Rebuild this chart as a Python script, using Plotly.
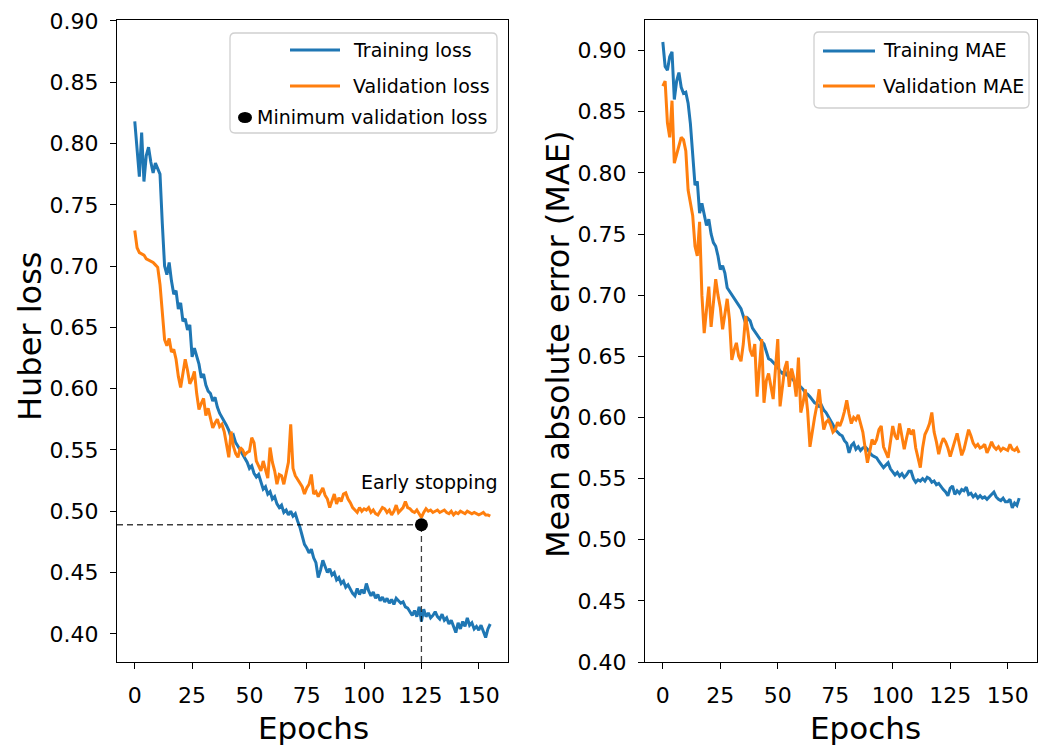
import plotly.graph_objects as go

# epochs and the four curves
epochs = list(range(156))

train_loss = [
    0.818, 0.798, 0.773, 0.809, 0.769, 0.790, 0.797, 0.785, 0.776, 0.784,
    0.780, 0.775, 0.735, 0.700, 0.693, 0.703, 0.688, 0.677, 0.680, 0.665,
    0.670, 0.655, 0.657, 0.648, 0.652, 0.626, 0.633, 0.627, 0.620, 0.609,
    0.612, 0.603, 0.598, 0.596, 0.590, 0.593, 0.585, 0.580, 0.577, 0.574,
    0.570, 0.566, 0.560, 0.562, 0.556, 0.553, 0.550, 0.546, 0.544, 0.540,
    0.535, 0.537, 0.531, 0.528, 0.530, 0.523, 0.518, 0.520, 0.514, 0.516,
    0.510, 0.512, 0.506, 0.503, 0.505, 0.499, 0.501, 0.497, 0.500, 0.496,
    0.498, 0.492, 0.487, 0.480, 0.473, 0.470, 0.466, 0.469, 0.462, 0.458,
    0.446, 0.452, 0.460, 0.455, 0.450, 0.453, 0.448, 0.450, 0.444, 0.446,
    0.441, 0.443, 0.438, 0.440, 0.436, 0.433, 0.431, 0.437, 0.432, 0.436,
    0.433, 0.441, 0.435, 0.431, 0.434, 0.429, 0.432, 0.427, 0.430, 0.426,
    0.429, 0.425, 0.428, 0.424, 0.429, 0.427, 0.425, 0.426, 0.422, 0.421,
    0.418, 0.415, 0.419, 0.414, 0.422, 0.410, 0.420, 0.414, 0.417, 0.413,
    0.415, 0.418, 0.414, 0.412, 0.416, 0.411, 0.413, 0.408, 0.411, 0.405,
    0.401, 0.409, 0.404, 0.410, 0.406, 0.413, 0.407, 0.409, 0.404, 0.406,
    0.403, 0.407, 0.401, 0.397, 0.404, 0.408,
]

val_loss = [
    0.729, 0.715, 0.711, 0.710, 0.709, 0.706, 0.705, 0.704, 0.703, 0.701,
    0.699, 0.685, 0.660, 0.640, 0.635, 0.641, 0.630, 0.632, 0.624, 0.610,
    0.601, 0.613, 0.624, 0.615, 0.604, 0.608, 0.614, 0.596, 0.583, 0.588,
    0.592, 0.578, 0.584, 0.576, 0.568, 0.572, 0.575, 0.569, 0.571, 0.565,
    0.555, 0.544, 0.565, 0.553, 0.547, 0.544, 0.552, 0.550, 0.546, 0.548,
    0.549, 0.560, 0.556, 0.541, 0.537, 0.533, 0.541, 0.535, 0.527, 0.552,
    0.540, 0.533, 0.522, 0.530, 0.529, 0.522, 0.531, 0.540, 0.571, 0.535,
    0.529, 0.526, 0.522, 0.520, 0.514, 0.519, 0.522, 0.530, 0.514, 0.516,
    0.512, 0.515, 0.519, 0.513, 0.510, 0.503, 0.508, 0.514, 0.506, 0.511,
    0.508, 0.514, 0.515, 0.510, 0.507, 0.503, 0.501, 0.499, 0.503, 0.500,
    0.502, 0.501, 0.503, 0.499, 0.501, 0.498, 0.497, 0.500, 0.503, 0.502,
    0.499, 0.501, 0.497, 0.500, 0.505, 0.499, 0.501, 0.503, 0.508, 0.503,
    0.502, 0.500, 0.499, 0.501, 0.498, 0.495, 0.499, 0.502, 0.500, 0.501,
    0.499, 0.500, 0.501, 0.499, 0.500, 0.501, 0.499, 0.498, 0.500, 0.497,
    0.499, 0.498, 0.500, 0.499, 0.498, 0.500, 0.499, 0.498, 0.499, 0.498,
    0.497, 0.498, 0.499, 0.497, 0.497, 0.496,
]

train_mae = [
    0.907, 0.887, 0.884, 0.895, 0.899, 0.860, 0.875, 0.882, 0.870, 0.865,
    0.866, 0.857, 0.840, 0.815, 0.790, 0.793, 0.767, 0.775, 0.765, 0.757,
    0.762, 0.750, 0.743, 0.740, 0.732, 0.721, 0.724, 0.718, 0.706, 0.703,
    0.701, 0.698, 0.694, 0.692, 0.689, 0.683, 0.677, 0.681, 0.679, 0.673,
    0.670, 0.668, 0.665, 0.662, 0.660, 0.653, 0.648, 0.647, 0.645, 0.643,
    0.641, 0.638, 0.636, 0.638, 0.634, 0.637, 0.632, 0.630, 0.628, 0.626,
    0.625, 0.623, 0.620, 0.619, 0.617, 0.614, 0.612, 0.611, 0.609, 0.610,
    0.606, 0.604, 0.601, 0.598, 0.594, 0.590, 0.588, 0.586, 0.585, 0.581,
    0.579, 0.571, 0.577, 0.579, 0.574, 0.576, 0.573, 0.575, 0.576, 0.574,
    0.571, 0.569, 0.568, 0.567, 0.564, 0.561, 0.559, 0.561, 0.563, 0.558,
    0.555, 0.553, 0.555, 0.552, 0.554, 0.551, 0.553, 0.556, 0.556, 0.550,
    0.547, 0.549, 0.548, 0.550, 0.548, 0.551, 0.550, 0.547, 0.548, 0.545,
    0.546, 0.543, 0.541, 0.539, 0.536, 0.542, 0.544, 0.537, 0.540, 0.538,
    0.541, 0.540, 0.543, 0.537, 0.538, 0.535, 0.537, 0.534, 0.536, 0.534,
    0.535, 0.533, 0.535, 0.537, 0.539, 0.535, 0.533, 0.532, 0.534, 0.531,
    0.531, 0.533, 0.526, 0.530, 0.528, 0.534,
]

val_mae = [
    0.871, 0.875, 0.841, 0.829, 0.859, 0.808, 0.815, 0.822, 0.829, 0.827,
    0.818, 0.786, 0.775, 0.765, 0.740, 0.732, 0.760, 0.700, 0.669, 0.690,
    0.707, 0.674, 0.695, 0.713, 0.700, 0.690, 0.672, 0.685, 0.697, 0.680,
    0.647, 0.655, 0.661, 0.650, 0.646, 0.660, 0.683, 0.670, 0.655, 0.650,
    0.660, 0.617, 0.640, 0.664, 0.612, 0.630, 0.636, 0.625, 0.615, 0.640,
    0.664, 0.609, 0.625, 0.640, 0.646, 0.625, 0.640, 0.632, 0.617, 0.649,
    0.604, 0.612, 0.623, 0.605, 0.576, 0.590, 0.600, 0.610, 0.623, 0.605,
    0.590, 0.596, 0.598, 0.594, 0.588, 0.590, 0.596, 0.593, 0.598, 0.605,
    0.614, 0.603, 0.595, 0.600, 0.598, 0.602, 0.595, 0.588, 0.575, 0.563,
    0.572, 0.582, 0.578, 0.582, 0.590, 0.593, 0.576, 0.572, 0.567, 0.580,
    0.593, 0.585, 0.582, 0.595, 0.585, 0.574, 0.583, 0.591, 0.586, 0.590,
    0.575, 0.568, 0.559, 0.575, 0.586, 0.590, 0.595, 0.604, 0.588, 0.580,
    0.570, 0.578, 0.583, 0.580, 0.575, 0.568, 0.574, 0.580, 0.587, 0.578,
    0.569, 0.574, 0.583, 0.590, 0.585, 0.579, 0.576, 0.578, 0.575, 0.576,
    0.578, 0.571, 0.575, 0.580, 0.576, 0.574, 0.576, 0.573, 0.575, 0.574,
    0.573, 0.578, 0.574, 0.573, 0.575, 0.571,
]

# early stopping point
min_epoch = 125
min_val_loss = 0.489

x_ticks = [0, 25, 50, 75, 100, 125, 150]
y_ticks = [0.40, 0.45, 0.50, 0.55, 0.60, 0.65, 0.70, 0.75, 0.80, 0.85, 0.90]

BLUE = '#1f77b4'
ORANGE = '#ff7f0e'
W, H = 1050, 755
FONT = 'DejaVu Sans'
PAGE_PAD = 8  # the html body has a default 8px margin

x_range = [-7.75, 162.75]
y_range_loss = [0.377, 0.9008]
y_range_mae = [0.400, 0.925]


def px(x):
    return (x - PAGE_PAD) / W


def py(y):
    return 1 - (y - PAGE_PAD) / H


fig = go.Figure()

# left panel: Huber loss
fig.add_trace(go.Scatter(x=epochs, y=train_loss, mode='lines',
                         line=dict(color=BLUE, width=3), xaxis='x', yaxis='y'))
fig.add_trace(go.Scatter(x=epochs, y=val_loss, mode='lines',
                         line=dict(color=ORANGE, width=3), xaxis='x', yaxis='y'))
# dashed guides to the minimum
fig.add_trace(go.Scatter(x=[x_range[0], min_epoch], y=[min_val_loss, min_val_loss], mode='lines',
                         line=dict(color='rgba(0,0,0,0.75)', width=1.3, dash='6px,4px'),
                         xaxis='x', yaxis='y'))
fig.add_trace(go.Scatter(x=[min_epoch, min_epoch], y=[y_range_loss[0], min_val_loss], mode='lines',
                         line=dict(color='rgba(0,0,0,0.75)', width=1.3, dash='6px,4px'),
                         xaxis='x', yaxis='y'))
fig.add_trace(go.Scatter(x=[min_epoch], y=[min_val_loss], mode='markers',
                         marker=dict(color='black', size=13, symbol='circle'),
                         xaxis='x', yaxis='y'))

# right panel: MAE
fig.add_trace(go.Scatter(x=epochs, y=train_mae, mode='lines',
                         line=dict(color=BLUE, width=3), xaxis='x2', yaxis='y2'))
fig.add_trace(go.Scatter(x=epochs, y=val_mae, mode='lines',
                         line=dict(color=ORANGE, width=3), xaxis='x2', yaxis='y2'))

axis_style = dict(
    showline=True, linecolor='black', linewidth=1.3, mirror=True,
    ticks='outside', ticklen=6, tickwidth=1.3, tickcolor='black',
    showgrid=False, zeroline=False, automargin=False,
    tickfont=dict(family=FONT, size=22, color='black'),
)

fig.update_layout(
    width=W, height=H,
    margin=dict(l=0, r=0, t=0, b=0),
    paper_bgcolor='white', plot_bgcolor='white',
    showlegend=False,
    xaxis=dict(domain=[px(117), px(508)], range=x_range, tickvals=x_ticks, anchor='y',
               ticklabelstandoff=7, **axis_style),
    yaxis=dict(domain=[py(662), py(20)], range=y_range_loss, tickvals=y_ticks, tickformat='.2f',
               anchor='x', ticklabelstandoff=7, **axis_style),
    xaxis2=dict(domain=[px(645), px(1037)], range=x_range, tickvals=x_ticks, anchor='y2',
                ticklabelstandoff=7, **axis_style),
    yaxis2=dict(domain=[py(662), py(20)], range=y_range_mae, tickvals=y_ticks, tickformat='.2f',
                anchor='x2', ticklabelstandoff=7, **axis_style),
)

annots = []
shapes = []


def label(text, x, y, size, angle=0, xanchor='center'):
    annots.append(dict(text=text, x=px(x), y=py(y), xref='paper', yref='paper',
                       xanchor=xanchor, yanchor='middle', showarrow=False, textangle=angle,
                       borderpad=0, font=dict(family=FONT, size=size, color='black')))


# axis titles
label('Huber loss', 30, 337, 32, angle=-90)
label('Mean absolute error (MAE)', 558, 345, 32, angle=-90)
label('Epochs', 313, 728, 31)
label('Epochs', 865, 728, 31)
label('Early stopping', 499, 482, 19, xanchor='right')


def legend_box(x0, y0, x1, y1, r=5):
    path = (f'M {px(x0 + r)} {py(y0)} L {px(x1 - r)} {py(y0)} '
            f'Q {px(x1)} {py(y0)} {px(x1)} {py(y0 + r)} L {px(x1)} {py(y1 - r)} '
            f'Q {px(x1)} {py(y1)} {px(x1 - r)} {py(y1)} L {px(x0 + r)} {py(y1)} '
            f'Q {px(x0)} {py(y1)} {px(x0)} {py(y1 - r)} L {px(x0)} {py(y0 + r)} '
            f'Q {px(x0)} {py(y0)} {px(x0 + r)} {py(y0)} Z')
    shapes.append(dict(type='path', path=path, xref='paper', yref='paper',
                       line=dict(color='#d0d0d0', width=1.3), fillcolor='rgba(255,255,255,0.85)'))


def legend_line(x0, x1, y, color):
    shapes.append(dict(type='line', x0=px(x0), x1=px(x1), y0=py(y), y1=py(y),
                       xref='paper', yref='paper', line=dict(color=color, width=3)))


# left legend
legend_box(230, 33, 497, 133)
legend_line(290, 340, 50, BLUE)
legend_line(290, 340, 86, ORANGE)
shapes.append(dict(type='circle', x0=px(238), x1=px(252), y0=py(112), y1=py(123),
                   xref='paper', yref='paper', fillcolor='black', line=dict(width=0)))
label('Training loss', 352, 50, 19, xanchor='left')
label('Validation loss', 352, 86, 19, xanchor='left')
label('Minimum validation loss', 256, 117, 19, xanchor='left')

# right legend
legend_box(814, 32, 1029, 108)
legend_line(823, 875, 51, BLUE)
legend_line(823, 875, 86, ORANGE)
label('Training MAE', 882, 50, 19, xanchor='left')
label('Validation MAE', 882, 86, 19, xanchor='left')

fig.update_layout(annotations=annots, shapes=shapes)

fig.write_html('out.html')
